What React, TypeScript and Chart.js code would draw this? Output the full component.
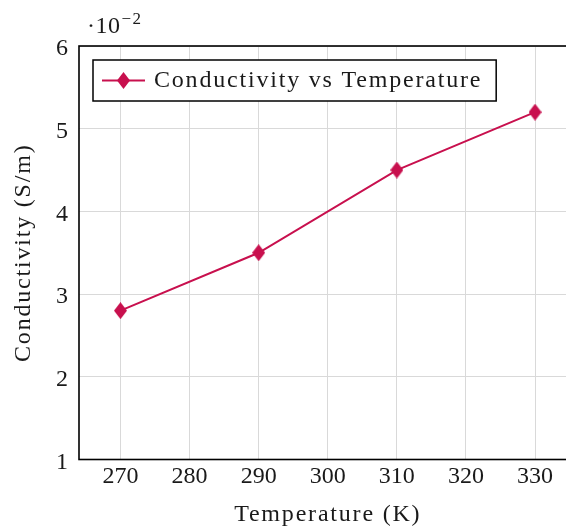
import React, { useEffect, useRef } from 'react';
import { Chart, registerables } from 'chart.js';

Chart.register(...registerables);

// ---- data ----
const temperatures = [270, 290, 310, 330]; // K
const conductivity = [2.8, 3.5, 4.5, 5.2]; // in units of 10^-2 S/m
const xTicks = [270, 280, 290, 300, 310, 320, 330];
const yTicks = [1, 2, 3, 4, 5, 6];
const xRange = [264, 336];
const yRange = [1, 6];
const seriesLabel = 'Conductivity vs Temperature';
const xTitle = 'Temperature (K)';
const yTitle = 'Conductivity (S/m)';
const exponentBase = '·10';
const exponentPower = '−2';

const COLOR = '#c8104e';
const TEXT = '#1a1a1a';
const FONT = '"Liberation Serif", "Times New Roman", serif';

function makeDiamond(w: number, h: number, color: string) {
  const c = document.createElement('canvas');
  c.width = w;
  c.height = h;
  const ctx = c.getContext('2d')!;
  ctx.fillStyle = color;
  ctx.beginPath();
  ctx.moveTo(w / 2, 0);
  ctx.lineTo(w, h / 2);
  ctx.lineTo(w / 2, h);
  ctx.lineTo(0, h / 2);
  ctx.closePath();
  ctx.fill();
  return c;
}

export default function App() {
  const ref = useRef<HTMLCanvasElement | null>(null);

  useEffect(() => {
    if (!ref.current) return;
    const diamond = makeDiamond(13, 17, COLOR);

    const decor = {
      id: 'decor',
      beforeDatasetsDraw(chart: any) {
        const { ctx, chartArea: a } = chart;
        ctx.save();
        ctx.strokeStyle = '#000';
        ctx.lineWidth = 1.6;
        ctx.strokeRect(a.left, a.top, a.right - a.left, a.bottom - a.top);
        ctx.restore();
      },
      afterDraw(chart: any) {
        const { ctx, chartArea: a } = chart;
        ctx.save();
        ctx.fillStyle = TEXT;
        (ctx as any).letterSpacing = '1.8px';
        ctx.font = `24px ${FONT}`;
        ctx.textBaseline = 'alphabetic';

        // x title
        ctx.textAlign = 'center';
        ctx.fillText(xTitle, (a.left + a.right) / 2, a.bottom + 61);

        // y title
        ctx.save();
        ctx.translate(a.left - 49, (a.top + a.bottom) / 2);
        ctx.rotate(-Math.PI / 2);
        ctx.fillText(yTitle, 0, 0);
        ctx.restore();

        // exponent label
        (ctx as any).letterSpacing = '0.5px';
        ctx.textAlign = 'left';
        const ex = a.left + 8;
        ctx.fillText(exponentBase, ex, a.top - 13);
        const w = ctx.measureText(exponentBase).width;
        ctx.font = `17px ${FONT}`;
        (ctx as any).letterSpacing = '1.5px';
        ctx.fillText(exponentPower, ex + w + 1, a.top - 22);

        // legend
        (ctx as any).letterSpacing = '1.8px';
        ctx.font = `24px ${FONT}`;
        const lx = a.left + 14;
        const ly = a.top + 14;
        const tw = ctx.measureText(seriesLabel).width;
        const lw = 61 + tw + 14;
        const lh = 41;
        ctx.fillStyle = '#fff';
        ctx.fillRect(lx, ly, lw, lh);
        ctx.strokeStyle = '#000';
        ctx.lineWidth = 1.5;
        ctx.strokeRect(lx, ly, lw, lh);
        ctx.strokeStyle = COLOR;
        ctx.lineWidth = 2;
        ctx.beginPath();
        ctx.moveTo(lx + 9, ly + 20.5);
        ctx.lineTo(lx + 52, ly + 20.5);
        ctx.stroke();
        ctx.drawImage(diamond, Math.round(lx + 30.5 - diamond.width / 2), Math.round(ly + 20.5 - diamond.height / 2));
        ctx.fillStyle = TEXT;
        ctx.textAlign = 'left';
        ctx.fillText(seriesLabel, lx + 61, ly + 27);
        ctx.restore();
      },
    };

    const chart = new Chart(ref.current, {
      type: 'line',
      data: {
        datasets: [
          {
            label: seriesLabel,
            data: temperatures.map((t, i) => ({ x: t, y: conductivity[i] })),
            borderColor: COLOR,
            backgroundColor: COLOR,
            borderWidth: 2,
            pointStyle: diamond as any,
            pointRadius: 8,
            tension: 0,
          },
        ],
      },
      options: {
        animation: false,
        responsive: false,
        devicePixelRatio: 1,
        layout: { padding: { top: 46, left: 0, right: 23.5, bottom: 0 } },
        plugins: { legend: { display: false }, tooltip: { enabled: false } },
        scales: {
          x: {
            type: 'linear',
            min: xRange[0],
            max: xRange[1],
            afterBuildTicks: (s: any) => {
              s.ticks = xTicks.map((v) => ({ value: v }));
            },
            afterFit: (s: any) => {
              s.height = 67.5;
            },
            grid: { color: '#d9d9d9', lineWidth: 1, drawTicks: false },
            border: { display: false },
            ticks: {
              padding: 3,
              color: TEXT,
              font: { family: FONT, size: 24 },
              callback: (v: any) => String(v),
            },
          },
          y: {
            type: 'linear',
            min: yRange[0],
            max: yRange[1],
            afterBuildTicks: (s: any) => {
              s.ticks = yTicks.map((v) => ({ value: v }));
            },
            afterFit: (s: any) => {
              s.width = 79;
            },
            grid: { color: '#d9d9d9', lineWidth: 1, drawTicks: false },
            border: { display: false },
            ticks: {
              padding: 11,
              labelOffset: 3,
              color: TEXT,
              font: { family: FONT, size: 24 },
              callback: (v: any) => String(v),
            },
          },
        },
      },
      plugins: [decor],
    });
    return () => chart.destroy();
  }, []);

  return (
    <div
      style={{
        position: 'fixed',
        left: 0,
        top: 0,
        width: 566,
        height: 527,
        overflow: 'hidden',
        background: '#fff',
      }}
    >
      <canvas ref={ref} width={600} height={527} style={{ display: 'block' }} />
    </div>
  );
}
